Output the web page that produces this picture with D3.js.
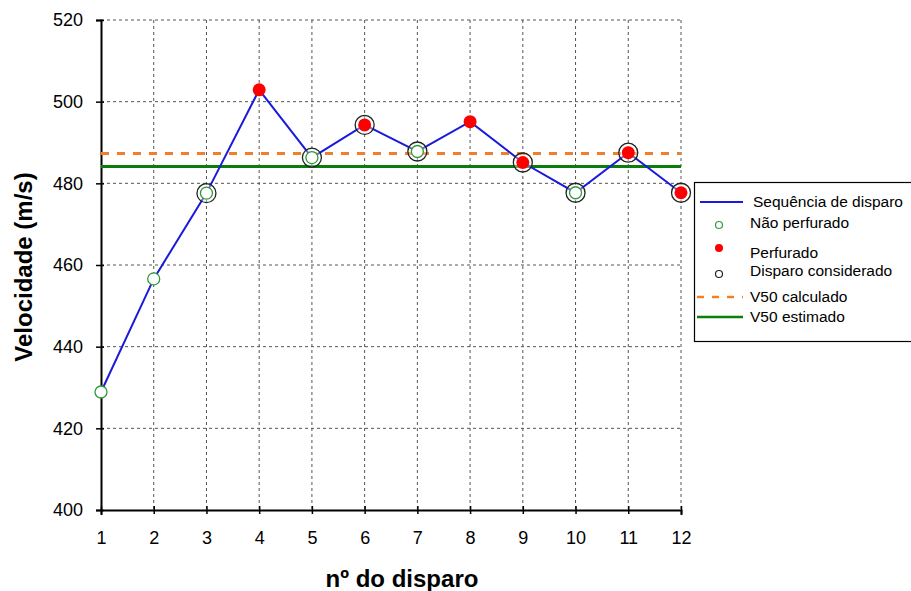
<!DOCTYPE html>
<html>
<head>
<meta charset="utf-8">
<script src="https://cdn.jsdelivr.net/npm/d3@7"></script>
<style>
  html, body { margin: 0; padding: 0; background: #fff; }
  svg { display: block; font-family: "Liberation Sans", Arial, sans-serif; }
</style>
</head>
<body>
<svg id="chart" width="911" height="591"></svg>
<script>
// Shot sequence: velocity (m/s) for each shot number
const shots = [1, 2, 3, 4, 5, 6, 7, 8, 9, 10, 11, 12];
const velocities = [428.9, 456.6, 477.6, 502.9, 486.3, 494.3, 487.8, 495.1, 485.1, 477.7, 487.5, 477.7];
// true = perforated (red), false = not perforated (green ring)
const perforated = [false, false, false, true, false, true, false, true, true, false, true, true];
// shots used in the V50 calculation (black outer ring)
const considered = [false, false, true, false, true, true, true, false, true, true, true, true];
const v50Calculated = 487.3;
const v50Estimated = 484.1;
const yTicks = [400, 420, 440, 460, 480, 500, 520];
const legendLabels = ["Sequência de disparo", "Não perfurado", "Perfurado", "Disparo considerado", "V50 calculado", "V50 estimado"];

const svg = d3.select("#chart");
const plotL = 101, plotR = 681, plotT = 20, plotB = 510;

const x = d3.scaleLinear().domain([1, 12]).range([plotL, plotR]);
const y = d3.scaleLinear().domain([400, 520]).range([plotB, plotT]);

// grid
const grid = svg.append("g").attr("stroke", "#555").attr("stroke-width", 1).attr("stroke-dasharray", "3,3");
shots.slice(1).forEach(s => {
  grid.append("line").attr("x1", x(s)).attr("x2", x(s)).attr("y1", plotT).attr("y2", plotB);
});
yTicks.slice(1).forEach(t => {
  grid.append("line").attr("x1", plotL).attr("x2", plotR).attr("y1", y(t)).attr("y2", y(t));
});

// axes
const yAxis = svg.append("g").attr("transform", `translate(${plotL},0)`)
  .call(d3.axisLeft(y).tickValues(yTicks).tickSize(5).tickPadding(13).tickFormat(d3.format("d")));
const xAxis = svg.append("g").attr("transform", `translate(0,${plotB})`)
  .call(d3.axisBottom(x).tickValues(shots).tickSize(5).tickPadding(16.5).tickFormat(d3.format("d")));
[yAxis, xAxis].forEach(a => {
  a.select(".domain").attr("stroke", "#000").attr("stroke-width", 2);
  a.selectAll(".tick line").attr("stroke", "#000").attr("stroke-width", 1.5);
  a.selectAll(".tick text").attr("font-size", 18).attr("fill", "#000")
    .attr("font-family", "Liberation Sans, Arial, sans-serif");
});
xAxis.selectAll(".tick line").attr("y1", -4).attr("y2", 4);
yAxis.selectAll(".tick line").attr("x1", -5).attr("x2", 3);

// reference V50 lines
svg.append("line").attr("x1", plotL).attr("x2", plotR)
  .attr("y1", y(v50Estimated)).attr("y2", y(v50Estimated))
  .attr("stroke", "#0a7d0a").attr("stroke-width", 3);
svg.append("line").attr("x1", plotL).attr("x2", plotR)
  .attr("y1", y(v50Calculated)).attr("y2", y(v50Calculated))
  .attr("stroke", "#f07f2a").attr("stroke-width", 3).attr("stroke-dasharray", "8,8");

// shot sequence line
const data = shots.map((s, i) => ({ s, v: velocities[i], p: perforated[i], c: considered[i] }));
svg.append("path").datum(data)
  .attr("fill", "none").attr("stroke", "#1a1adc").attr("stroke-width", 2)
  .attr("d", d3.line().x(d => x(d.s)).y(d => y(d.v)));

// considered rings
svg.append("g").selectAll("circle").data(data.filter(d => d.c)).join("circle")
  .attr("cx", d => x(d.s)).attr("cy", d => y(d.v)).attr("r", 9.5)
  .attr("fill", "#fff").attr("fill-opacity", 0.35).attr("stroke", "#222").attr("stroke-width", 1.3);

// markers
const marks = svg.append("g");
marks.selectAll(".np").data(data.filter(d => !d.p)).join("circle")
  .attr("cx", d => x(d.s)).attr("cy", d => y(d.v)).attr("r", 6)
  .attr("fill", "#fff").attr("stroke", "#2e9a3a").attr("stroke-width", 1.3);
marks.selectAll(".pf").data(data.filter(d => d.p)).join("circle")
  .attr("cx", d => x(d.s)).attr("cy", d => y(d.v)).attr("r", 6.5)
  .attr("fill", "#ff0000");

// axis titles
svg.append("text").attr("transform", `translate(32,267) rotate(-90)`)
  .attr("text-anchor", "middle").attr("font-size", 24).attr("font-weight", "bold")
  .text("Velocidade (m/s)");
svg.append("text").attr("x", 402).attr("y", 587)
  .attr("text-anchor", "middle").attr("font-size", 24).attr("font-weight", "bold")
  .text("nº do disparo");

// legend
const lg = svg.append("g");
lg.append("rect").attr("x", 694.5).attr("y", 182.5).attr("width", 230).attr("height", 159)
  .attr("fill", "#fff").attr("stroke", "#000").attr("stroke-width", 1.2);
const rowY = [202, 223, 253, 271, 297, 317];
const textX = [753, 750, 750, 750, 750, 750];
legendLabels.forEach((lab, i) => {
  lg.append("text").attr("x", textX[i]).attr("y", rowY[i])
    .attr("dy", "0.35em").attr("font-size", 15.5).attr("fill", "#000").text(lab);
});
lg.append("line").attr("x1", 700).attr("x2", 743).attr("y1", rowY[0]).attr("y2", rowY[0])
  .attr("stroke", "#1a1adc").attr("stroke-width", 2);
lg.append("circle").attr("cx", 719).attr("cy", 225).attr("r", 3.5)
  .attr("fill", "#fff").attr("stroke", "#2e9a3a").attr("stroke-width", 1.2);
lg.append("circle").attr("cx", 719).attr("cy", 248).attr("r", 4)
  .attr("fill", "#ff0000");
lg.append("circle").attr("cx", 719).attr("cy", 274).attr("r", 3.5)
  .attr("fill", "#fff").attr("stroke", "#222").attr("stroke-width", 1.2);
lg.append("line").attr("x1", 697).attr("x2", 743).attr("y1", rowY[4]).attr("y2", rowY[4])
  .attr("stroke", "#f07f2a").attr("stroke-width", 2.5).attr("stroke-dasharray", "7,8");
lg.append("line").attr("x1", 697).attr("x2", 743).attr("y1", rowY[5]).attr("y2", rowY[5])
  .attr("stroke", "#0a7d0a").attr("stroke-width", 2.5);
</script>
</body>
</html>
